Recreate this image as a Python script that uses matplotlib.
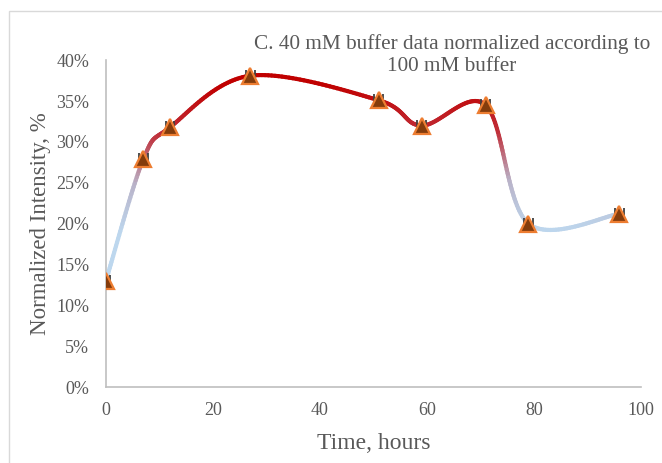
import numpy as np
import matplotlib
matplotlib.use("Agg")
import matplotlib.pyplot as plt
from matplotlib.collections import LineCollection
from matplotlib.colors import LinearSegmentedColormap
from matplotlib.patches import Rectangle
from matplotlib.ticker import PercentFormatter

# data
time_h = [0, 7, 12, 27, 51, 59, 71, 79, 96]
intensity = [0.130, 0.279, 0.318, 0.381, 0.351, 0.320, 0.345, 0.200, 0.212]
time_err = [0.8] * len(time_h)

title = "C. 40 mM buffer data normalized according to\n100 mM buffer"
xlabel = "Time, hours"
ylabel = "Normalized Intensity, %"

grey = "#595959"
plt.rcParams['font.family'] = ['Liberation Serif', 'DejaVu Serif']


def excel_smooth(x, y, n=40):
    # bezier smoothing like excel's "smoothed line" (catmull-rom style)
    x = np.asarray(x, float)
    y = np.asarray(y, float)
    px = np.concatenate([[x[0]], x, [x[-1]]])
    py = np.concatenate([[y[0]], y, [y[-1]]])
    xs, ys = [], []
    t = np.linspace(0, 1, n)
    for i in range(1, len(px) - 2):
        p0 = np.array([px[i], py[i]])
        p3 = np.array([px[i + 1], py[i + 1]])
        p1 = p0 + (np.array([px[i + 1], py[i + 1]]) - np.array([px[i - 1], py[i - 1]])) / 6
        p2 = p3 - (np.array([px[i + 2], py[i + 2]]) - np.array([px[i], py[i]])) / 6
        b = ((1 - t) ** 3)[:, None] * p0 + (3 * (1 - t) ** 2 * t)[:, None] * p1 \
            + (3 * (1 - t) * t ** 2)[:, None] * p2 + (t ** 3)[:, None] * p3
        xs.append(b[:, 0])
        ys.append(b[:, 1])
    return np.concatenate(xs), np.concatenate(ys)


fig = plt.figure(figsize=(6.62, 4.63), dpi=100)
ax = fig.add_axes([0.160, 0.164, 0.808, 0.706])

# chart border
fig.patches.append(Rectangle((9 / 662, -0.05), 1.1, 1 - 11 / 463 + 0.05,
                             transform=fig.transFigure, fill=False,
                             edgecolor="#D9D9D9", lw=1))

sx, sy = excel_smooth(time_h, intensity)
pts = np.column_stack([sx, sy]).reshape(-1, 1, 2)
segs = np.concatenate([pts[:-1], pts[1:]], axis=1)
cmap = LinearSegmentedColormap.from_list("grad", ["#BDD7EE", "#B9B3C9", "#C0303A", "#C00000"])
mid = (sy[:-1] + sy[1:]) / 2
lc = LineCollection(segs, cmap=cmap, norm=plt.Normalize(0.19, 0.37),
                    linewidths=3.0, capstyle="round", joinstyle="round", zorder=2)
lc.set_array(mid)
ax.add_collection(lc)

ax.errorbar(time_h, intensity, xerr=time_err, fmt="none", ecolor="#404040",
            elinewidth=1, capsize=4.5, capthick=1.3, zorder=3)
ax.plot(time_h, intensity, ls="none", marker="^", markersize=11,
        markerfacecolor="#843C0C", markeredgecolor="#ED7D31",
        markeredgewidth=1.6, zorder=4)

ax.set_xlim(0, 100)
ax.set_ylim(0, 0.40)
ax.set_xticks(range(0, 101, 20))
ax.set_yticks(np.arange(0, 0.401, 0.05))
ax.yaxis.set_major_formatter(PercentFormatter(1.0, decimals=0))
ax.tick_params(length=0, labelsize=13, colors=grey)
ax.tick_params(axis="y", pad=12)
ax.tick_params(axis="x", pad=11)
for s in ["top", "right"]:
    ax.spines[s].set_visible(False)
for s in ["left", "bottom"]:
    ax.spines[s].set_color("#BFBFBF")
    ax.spines[s].set_linewidth(1.2)

ax.set_xlabel(xlabel, fontsize=17, color=grey, labelpad=10)
ax.set_ylabel(ylabel, fontsize=16.5, color=grey, labelpad=4)
fig.text(452 / 662, 1 - 55 / 463, title, ha="center", va="center",
         fontsize=15.3, color=grey, linespacing=1.2)

fig.savefig("out.png", dpi=100, facecolor="white")
